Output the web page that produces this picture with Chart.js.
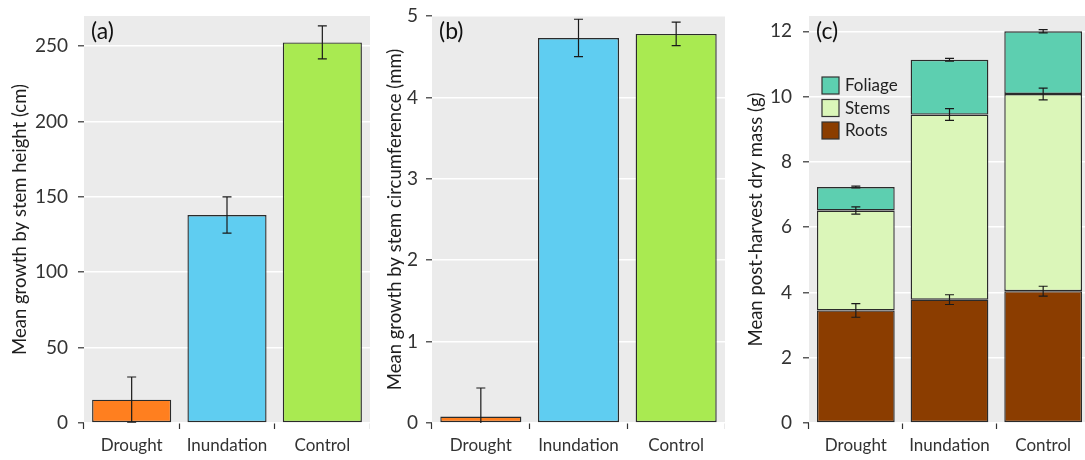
<!DOCTYPE html>
<html>
<head>
<meta charset="utf-8">
<script src="https://cdn.jsdelivr.net/npm/chart.js@4.4.0/dist/chart.umd.min.js"></script>
<style>
html, body { margin: 0; padding: 0; background: #fff; overflow: hidden; width: 1085px; height: 460px; }
.panel { position: absolute; top: 0; height: 460px; }
</style>
</head>
<body>
<div class="panel" style="left:0;width:370px"><canvas id="chartA"></canvas></div>
<div class="panel" style="left:372px;width:353px"><canvas id="chartB"></canvas></div>
<div class="panel" style="left:725px;width:365px"><canvas id="chartC"></canvas></div>
<script>
// treatments shared by all three panels
const treatments = ['Drought', 'Inundation', 'Control'];
const treatmentColors = ['#ff7f1f', '#5fcdf1', '#a9ea51'];

// (a) growth by stem height, cm
const heightMean = [15.5, 138, 252.5];
const heightErr = [15, 12, 11];

// (b) growth by stem circumference, mm
const circMean = [0.08, 4.73, 4.78];
const circErr = [0.35, 0.23, 0.145];

// (c) post-harvest dry mass, g (stacked)
const rootsMass = [3.45, 3.78, 4.04];
const rootsErr = [0.21, 0.15, 0.15];
const stemsMass = [3.06, 5.67, 6.04];
const stemsErr = [0.11, 0.18, 0.18];
const foliageMass = [0.72, 1.68, 1.92];
const foliageErr = [0.03, 0.04, 0.05];

Chart.defaults.font.family = 'Lato, "Open Sans", sans-serif';
Chart.defaults.color = '#333';

const panelBg = {
  id: 'panelBg',
  beforeDraw(chart) {
    const a = chart.chartArea, ctx = chart.ctx;
    ctx.save();
    ctx.fillStyle = '#ebebeb';
    ctx.fillRect(a.left, a.top, a.width, a.height);
    ctx.restore();
  }
};

const errorBars = {
  id: 'errorBars',
  afterDatasetsDraw(chart, args, opts) {
    const {ctx, chartArea} = chart;
    const x = chart.scales.x, y = chart.scales.y;
    ctx.save();
    ctx.beginPath();
    ctx.rect(chartArea.left, chartArea.top, chartArea.width, chartArea.height);
    ctx.clip();
    ctx.strokeStyle = '#1a1a1a';
    ctx.lineWidth = 1.2;
    chart.data.datasets.forEach((ds, d) => {
      if (!ds.errors) return;
      ds.data.forEach((v, i) => {
        let base = 0;
        if (opts.stacked) {
          for (let k = 0; k < d; k++) base += chart.data.datasets[k].data[i];
        }
        const top = base + v;
        const cx = x.getPixelForValue(i);
        const y1 = y.getPixelForValue(top + ds.errors[i]);
        const y2 = y.getPixelForValue(top - ds.errors[i]);
        ctx.beginPath();
        ctx.moveTo(cx, y1); ctx.lineTo(cx, y2);
        ctx.moveTo(cx - 4.5, y1); ctx.lineTo(cx + 4.5, y1);
        ctx.moveTo(cx - 4.5, y2); ctx.lineTo(cx + 4.5, y2);
        ctx.stroke();
      });
    });
    ctx.restore();
  }
};

const panelText = {
  id: 'panelText',
  afterDraw(chart, args, opts) {
    const {ctx, chartArea} = chart;
    ctx.save();
    ctx.fillStyle = '#111';
    ctx.font = '23px Lato, sans-serif';
    ctx.textBaseline = 'middle';
    ctx.fillText(opts.tag, chartArea.left + 7, chartArea.top + 16);
    if (opts.legend) {
      const items = chart.data.datasets.slice().reverse();
      ctx.font = '17px Lato, sans-serif';
      items.forEach((ds, j) => {
        const bx = chartArea.left + 13, by = chartArea.top + 61 + j * 22.5;
        ctx.fillStyle = ds.backgroundColor;
        ctx.fillRect(bx, by, 17, 17);
        ctx.strokeStyle = '#333';
        ctx.lineWidth = 1.2;
        ctx.strokeRect(bx, by, 17, 17);
        ctx.fillStyle = '#222';
        ctx.fillText(ds.label, bx + 23, by + 9);
      });
    }
    ctx.restore();
  }
};

function makePanel(id, cfg) {
  return new Chart(document.getElementById(id), {
    type: 'bar',
    data: { labels: treatments, datasets: cfg.datasets },
    plugins: [panelBg, errorBars, panelText],
    options: {
      responsive: true,
      maintainAspectRatio: false,
      animation: false,
      layout: { padding: { top: 16, right: 0, left: 0, bottom: 0 } },
      datasets: { bar: { barPercentage: 0.83, categoryPercentage: 1, borderColor: '#2b2b2b', borderWidth: 1.4, borderSkipped: false } },
      plugins: {
        legend: { display: false },
        tooltip: { enabled: false },
        errorBars: { stacked: !!cfg.stacked },
        panelText: { tag: cfg.tag, legend: !!cfg.stacked }
      },
      scales: {
        x: {
          stacked: !!cfg.stacked,
          border: { display: false },
          grid: { drawOnChartArea: false, tickLength: 6, tickColor: '#333', tickWidth: 1.2 },
          ticks: { font: { size: 17 }, padding: 6 },
          afterFit(s) { s.height = 37; s.paddingLeft = 0; s.paddingRight = 0; }
        },
        y: {
          stacked: !!cfg.stacked,
          min: 0,
          max: cfg.max,
          border: { display: false },
          grid: { color: '#ffffff', lineWidth: 1.6, tickLength: 6, tickColor: '#333', tickWidth: 1.2 },
          ticks: { stepSize: cfg.step, includeBounds: false, font: { size: 19 }, padding: cfg.tickPad },
          title: { display: true, text: cfg.title, color: '#1e1e1e', font: { size: 18.5 }, padding: { top: cfg.titlePad } },
          afterFit(s) { s.width = cfg.axisWidth; s.paddingTop = 0; s.paddingBottom = 0; }
        }
      }
    }
  });
}

makePanel('chartA', {
  tag: '(a)', max: 270, step: 50, axisWidth: 84, tickPad: 10, titlePad: 9,
  title: 'Mean growth by stem height (cm)',
  datasets: [{ label: 'Height', data: heightMean, errors: heightErr, backgroundColor: treatmentColors }]
});

makePanel('chartB', {
  tag: '(b)', max: 5, step: 1, axisWidth: 60, tickPad: 8, titlePad: 12,
  title: 'Mean growth by stem circumference (mm)',
  datasets: [{ label: 'Circumference', data: circMean, errors: circErr, backgroundColor: treatmentColors }]
});

makePanel('chartC', {
  tag: '(c)', max: 12.47, step: 2, axisWidth: 84, tickPad: 11, titlePad: 20, stacked: true,
  title: 'Mean post-harvest dry mass (g)',
  datasets: [
    { label: 'Roots', data: rootsMass, errors: rootsErr, backgroundColor: '#8b3d00' },
    { label: 'Stems', data: stemsMass, errors: stemsErr, backgroundColor: '#dbf6b9' },
    { label: 'Foliage', data: foliageMass, errors: foliageErr, backgroundColor: '#5dcfb0' }
  ]
});
</script>
</body>
</html>
